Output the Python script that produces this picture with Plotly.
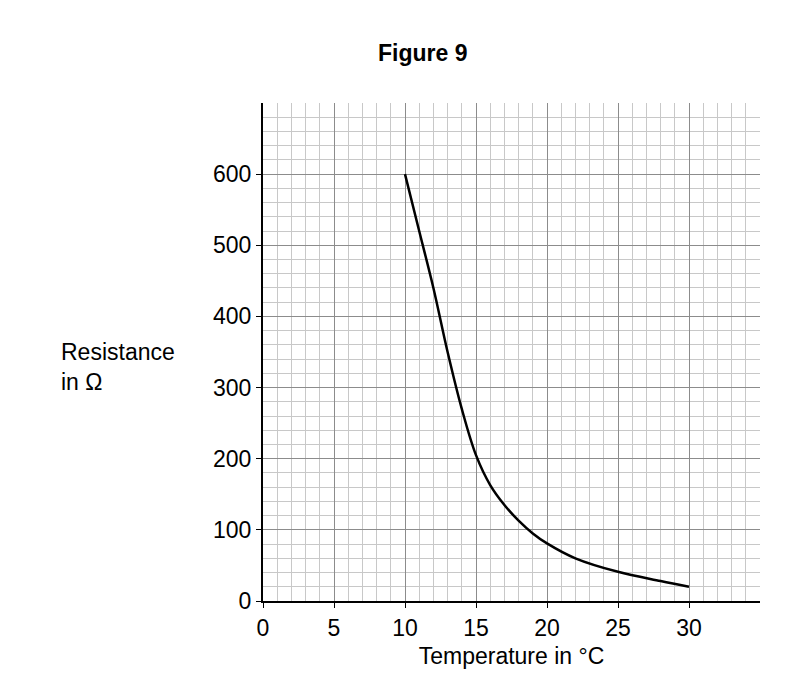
import plotly.graph_objects as go

temp = [10, 11, 12, 13, 14, 15, 16, 17, 18, 19, 20, 22, 25, 28, 30]
resistance = [600, 520, 440, 350, 270, 205, 163, 135, 113, 95, 81, 60, 41, 28, 20]

fig = go.Figure(go.Scatter(x=temp, y=resistance, mode="lines", line=dict(color="black", width=2.5, shape="spline"),
                           hoverinfo="skip"))

axis_common = dict(showgrid=True, gridcolor="#8c8c8c", gridwidth=1, zeroline=False,
                   ticks="outside", ticklen=5, tickcolor="black", tickfont=dict(size=23, color="black"),
                   showline=True, linecolor="black", linewidth=2)

fig.update_layout(
    width=800, height=700,
    margin=dict(l=255, r=48, t=95, b=107),
    plot_bgcolor="white", paper_bgcolor="white",
    font=dict(family="Liberation Sans, Arial", color="black"),
    showlegend=False,
    xaxis=dict(range=[0, 35], tickvals=[0, 5, 10, 15, 20, 25, 30],
               minor=dict(dtick=1, showgrid=True, gridcolor="#c8c8c8", gridwidth=1),
               title=dict(text="Temperature in °C", font=dict(size=23), standoff=8),
               **axis_common),
    yaxis=dict(range=[0, 700], tickvals=[0, 100, 200, 300, 400, 500, 600],
               minor=dict(dtick=20, showgrid=True, gridcolor="#c8c8c8", gridwidth=1),
               **axis_common),
    annotations=[
        dict(text="<b>Figure 9</b>", x=0.32, y=1.13, xref="paper", yref="paper", xanchor="center",
             showarrow=False, font=dict(size=23)),
        dict(text="Resistance<br>in Ω", xref="paper", yref="paper", x=-0.41, y=0.47,
             xanchor="left", align="left", showarrow=False, font=dict(size=23)),
    ],
)
fig.write_html("out.html")
